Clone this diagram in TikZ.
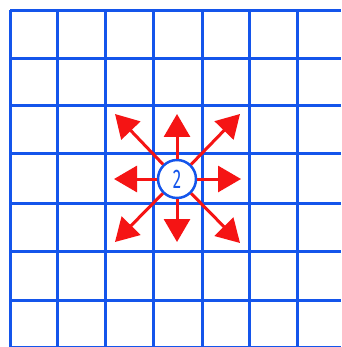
\documentclass[tikz,border=0pt]{standalone}
\usepackage{fontspec}
\setsansfont{Fira Sans}
\usetikzlibrary{arrows.meta}
\definecolor{gridblue}{RGB}{20,85,235}
\definecolor{arrred}{RGB}{245,20,20}
\tikzset{
  gridline/.style={draw=gridblue,line width=3pt},
  redarrow/.style={draw=arrred,line width=3pt,-{Triangle[width=26pt,length=23pt]},fill=arrred},
  numcircle/.style={circle,draw=gridblue,line width=2.5pt,fill=white,minimum size=38pt,inner sep=0pt,text=gridblue}
}
\begin{document}
\begin{tikzpicture}[x=1pt,y=-1pt]
\useasboundingbox (0,0) rectangle (341,347);
\fill[white] (0,0) rectangle (341,347);
% grid
\foreach \x in {10,57,105,153,202,249,297}{
  \draw[gridline] (\x,10) -- (\x,347);
}
\foreach \y in {11,59,106,154,203,251,300,347}{
  \draw[gridline] (10,\y) -- (341,\y);
}
% centre node
\node[numcircle] (c) at (177,179) {\scalebox{0.62}[1]{\sffamily\fontsize{27}{27}\selectfont 2}};
% arrow tips
\coordinate (tN) at (177,114);
\coordinate (tS) at (177,242);
\coordinate (tW) at (114,179);
\coordinate (tE) at (241,179);
\coordinate (tNW) at (115,114);
\coordinate (tNE) at (240,114);
\coordinate (tSW) at (115,242);
\coordinate (tSE) at (240,243);
\foreach \t in {tN,tS,tW,tE,tNW,tNE,tSW,tSE}{
  \draw[redarrow] (c) -- (\t);
}
\end{tikzpicture}
\end{document}
